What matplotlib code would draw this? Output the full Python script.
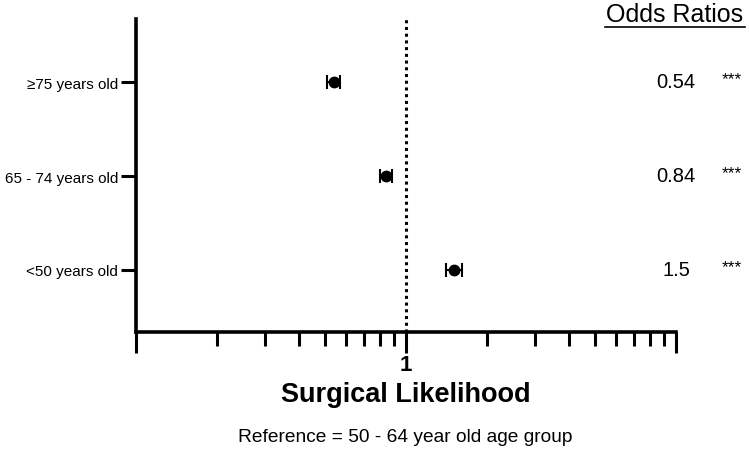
import matplotlib
matplotlib.use('Agg')
import matplotlib.pyplot as plt
from matplotlib.ticker import FixedLocator, NullFormatter

plt.rcParams['font.family'] = ['Liberation Sans', 'DejaVu Sans']

# 数据
groups = ['≥75 years old', '65 - 74 years old', '<50 years old']
odds = [0.54, 0.84, 1.5]
ci_low = [0.51, 0.80, 1.41]
ci_high = [0.57, 0.89, 1.61]
or_labels = ['0.54', '0.84', '1.5']
sig = ['***', '***', '***']
ypos = [3, 2, 1]

fig = plt.figure(figsize=(7.49, 4.56), dpi=100)
ax = fig.add_axes([0.1816, 0.2697, 0.7209, 0.6863])

err_lo = [o - l for o, l in zip(odds, ci_low)]
err_hi = [h - o for o, h in zip(odds, ci_high)]
ax.errorbar(odds, ypos, xerr=[err_lo, err_hi], fmt='o', color='black',
            markersize=7.5, elinewidth=1.5, capsize=5, capthick=1.5, zorder=3)

# 参考线
ax.axvline(1, color='black', lw=2.2, linestyle=(0, (1, 1.2)), zorder=1)

ax.set_xscale('log')
ax.set_xlim(0.1, 10)
ax.set_ylim(0.34, 3.67)

ax.xaxis.set_major_locator(FixedLocator([0.1, 1, 10]))
ax.set_xticklabels(['', '1', ''], fontsize=16, fontweight='bold')
minors = [m * 0.1 for m in range(2, 10)] + [m * 1.0 for m in range(2, 10)]
ax.xaxis.set_minor_locator(FixedLocator(minors))
ax.xaxis.set_minor_formatter(NullFormatter())
ax.tick_params(axis='x', which='major', length=15, width=2.2, direction='out', pad=1)
ax.tick_params(axis='x', which='minor', length=10, width=2.2, direction='out')

ax.set_yticks(ypos)
ax.set_yticklabels(groups, fontsize=11)
ax.tick_params(axis='y', which='major', length=11, width=2.2, direction='out', pad=2)
ax.tick_params(axis='y', which='minor', left=False)

for s in ['top', 'right']:
    ax.spines[s].set_visible(False)
for s in ['left', 'bottom']:
    ax.spines[s].set_linewidth(2.6)

ax.set_xlabel('Surgical Likelihood', fontsize=19.5, fontweight='bold', labelpad=4)

# 右侧 OR 值
yfig = [1 - 83 / 456, 1 - 177 / 456, 1 - 271 / 456]
for yf, lab, st in zip(yfig, or_labels, sig):
    fig.text(676 / 749, yf, lab, ha='center', va='center', fontsize=14.5)
    fig.text(732 / 749, yf + 0.008, st, ha='center', va='center', fontsize=12.5)

fig.text(675 / 749, 1 - 15 / 456, 'Odds Ratios', ha='center', va='center', fontsize=18)
# 下划线
fig.add_artist(plt.Line2D([605 / 749, 745 / 749], [1 - 28 / 456, 1 - 28 / 456],
                          color='black', lw=1.2, transform=fig.transFigure))

fig.text(405 / 749, 1 - 438 / 456, 'Reference = 50 - 64 year old age group',
         ha='center', va='center', fontsize=13.8)

plt.savefig('out.png', dpi=100)
